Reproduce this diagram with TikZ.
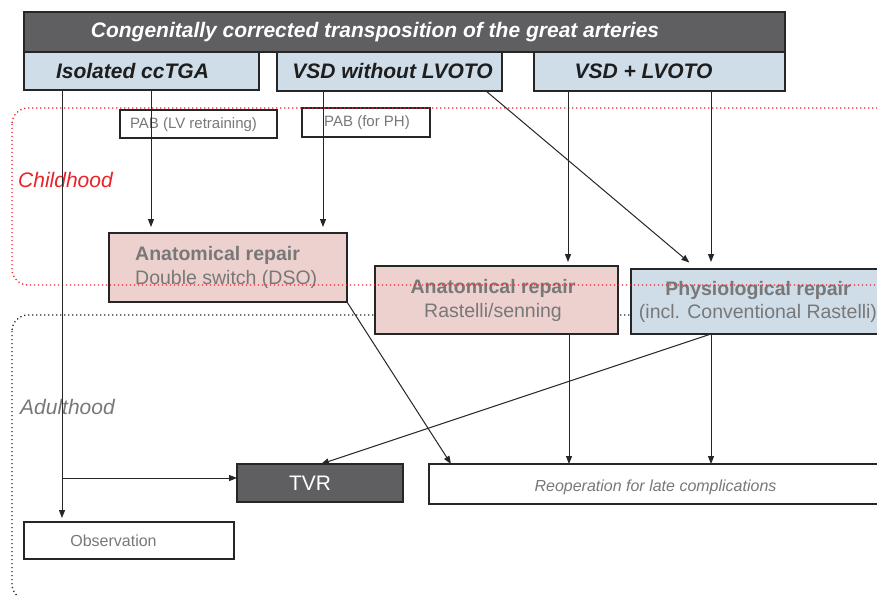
\documentclass[tikz,border=0pt]{standalone}
\usepackage{fontspec}
\setmainfont{Liberation Sans}
\usetikzlibrary{arrows.meta}
\definecolor{hdr}{HTML}{5F5F61}
\definecolor{lblue}{HTML}{CFDDE8}
\definecolor{lpink}{HTML}{EDD1CE}
\definecolor{txtgray}{HTML}{787878}
\definecolor{redlab}{HTML}{E8232A}
\definecolor{edge}{HTML}{262626}
\definecolor{hdrtxt}{HTML}{1E1E1E}
\begin{document}
\begin{tikzpicture}[x=1pt,y=-1pt,
  box/.style={draw=edge, line width=1.1pt, anchor=north west, inner sep=0pt, outer sep=0pt},
  txt/.style={inner sep=0pt, text=txtgray},
  hdrfont/.style={font=\fontsize{21}{25}\selectfont\bfseries\itshape, text=hdrtxt, inner sep=0pt},
  midfont/.style={font=\fontsize{19.5}{24}\selectfont},
  arr/.style={draw=edge, line width=1pt, -{Triangle[length=8pt,width=6pt]}},
  zone/.style={line width=1.3pt, dash pattern=on 1.2pt off 2.8pt, rounded corners=16pt},
]
\clip (0,0) rectangle (877,596);
\fill[white] (0,0) rectangle (877,596);

% adulthood zone (behind boxes)
\draw[zone, black!85] (12,315) rectangle (886,600);

% header boxes
\node[box, fill=hdr, minimum width=761pt, minimum height=40pt] (title) at (24,12) {};
\node[box, fill=lblue, minimum width=235pt, minimum height=38pt] (iso) at (24,52) {};
\node[box, fill=lblue, minimum width=225pt, minimum height=39pt] (vsd) at (277,52) {};
\node[box, fill=lblue, minimum width=251pt, minimum height=39pt] (vsdl) at (534,52) {};
\node[hdrfont, text=white] (titlet) at (375,32) {Congenitally corrected transposition of the great arteries};
\node[hdrfont] (isot) at (132.5,71) {Isolated ccTGA};
\node[hdrfont] (vsdt) at (392.5,71) {VSD without LVOTO};
\node[hdrfont] (vsdlt) at (643.5,71) {VSD + LVOTO};

% PAB boxes
\node[box, fill=white, minimum width=157pt, minimum height=28pt] (pab1) at (120,110) {};
\node[box, fill=white, minimum width=128pt, minimum height=29pt] (pab2) at (302,108) {};
\node[txt, font=\fontsize{15}{18}\selectfont] (pab1t) at (193.5,124.5) {PAB (LV retraining)};
\node[txt, font=\fontsize{15}{18}\selectfont] (pab2t) at (367,123) {PAB (for PH)};

% repair boxes
\node[box, fill=lpink, minimum width=238pt, minimum height=69pt] (dso) at (109,233) {};
\node[box, fill=lpink, minimum width=243pt, minimum height=68pt] (ras) at (375,266) {};
\node[box, fill=lblue, minimum width=260pt, minimum height=65pt] (phy) at (631,269) {};
\node[txt, midfont, align=left, anchor=west] (dsot) at (135,267)
  {\textbf{Anatomical repair}\\Double switch (DSO)};
\node[txt, midfont, align=center] (rast) at (493,300)
  {\textbf{Anatomical repair}\\Rastelli/senning};
\node[txt, font=\fontsize{19.5}{23}\selectfont, align=center] (phyt) at (758,302)
  {\textbf{Physiological repair}\\(incl. Conventional Rastelli)};

% bottom boxes
\node[box, fill=hdr, minimum width=166pt, minimum height=38pt] (tvr) at (237,464) {};
\node[box, fill=white, minimum width=460pt, minimum height=40pt] (reop) at (429,464) {};
\node[box, fill=white, minimum width=210pt, minimum height=37pt] (obs) at (24,522) {};
\node[inner sep=0pt, text=white, font=\fontsize{21}{25}\selectfont] (tvrt) at (310,483) {TVR};
\node[txt, font=\fontsize{16}{19}\selectfont\itshape] (reopt) at (655.5,487) {Reoperation for late complications};
\node[txt, font=\fontsize{16}{19}\selectfont] (obst) at (113.5,541) {Observation};

% zone labels
\node[inner sep=0pt, anchor=west, text=redlab, font=\fontsize{21}{25}\selectfont\itshape] (child) at (18,180) {Childhood};
\node[inner sep=0pt, anchor=west, text=txtgray, font=\fontsize{21}{25}\selectfont\itshape] (adult) at (20,407) {Adulthood};

% childhood zone (over boxes)
\draw[zone, redlab] (12,108) rectangle (900,285);

% connectors
\coordinate (br) at (62,478);
\draw[arr, shorten >=4pt] (62,0 |- iso.south) -- (62,0 |- obs.north);
\draw[arr] (br) -- (tvr.west |- br);
\draw[arr, shorten >=6pt] (151,0 |- iso.south) -- (151,0 |- dso.north);
\draw[arr, shorten >=6pt] (323,0 |- vsd.south) -- (323,0 |- dso.north);
\draw[arr, shorten >=10pt] (486,0 |- vsd.south) -- (697,0 |- phy.north);
\draw[arr, shorten >=4pt] (568,0 |- vsdl.south) -- (568,0 |- ras.north);
\draw[arr, shorten >=7pt] (711,0 |- vsdl.south) -- (711,0 |- phy.north);
\draw[arr] (dso.south east) -- (451,0 |- reop.north);
\draw[arr] (569,0 |- ras.south) -- (569,0 |- reop.north);
\draw[arr] (711,0 |- phy.south) -- (711,0 |- reop.north);
\draw[arr] (711,0 |- phy.south) -- (321,0 |- tvr.north);
\end{tikzpicture}
\end{document}
